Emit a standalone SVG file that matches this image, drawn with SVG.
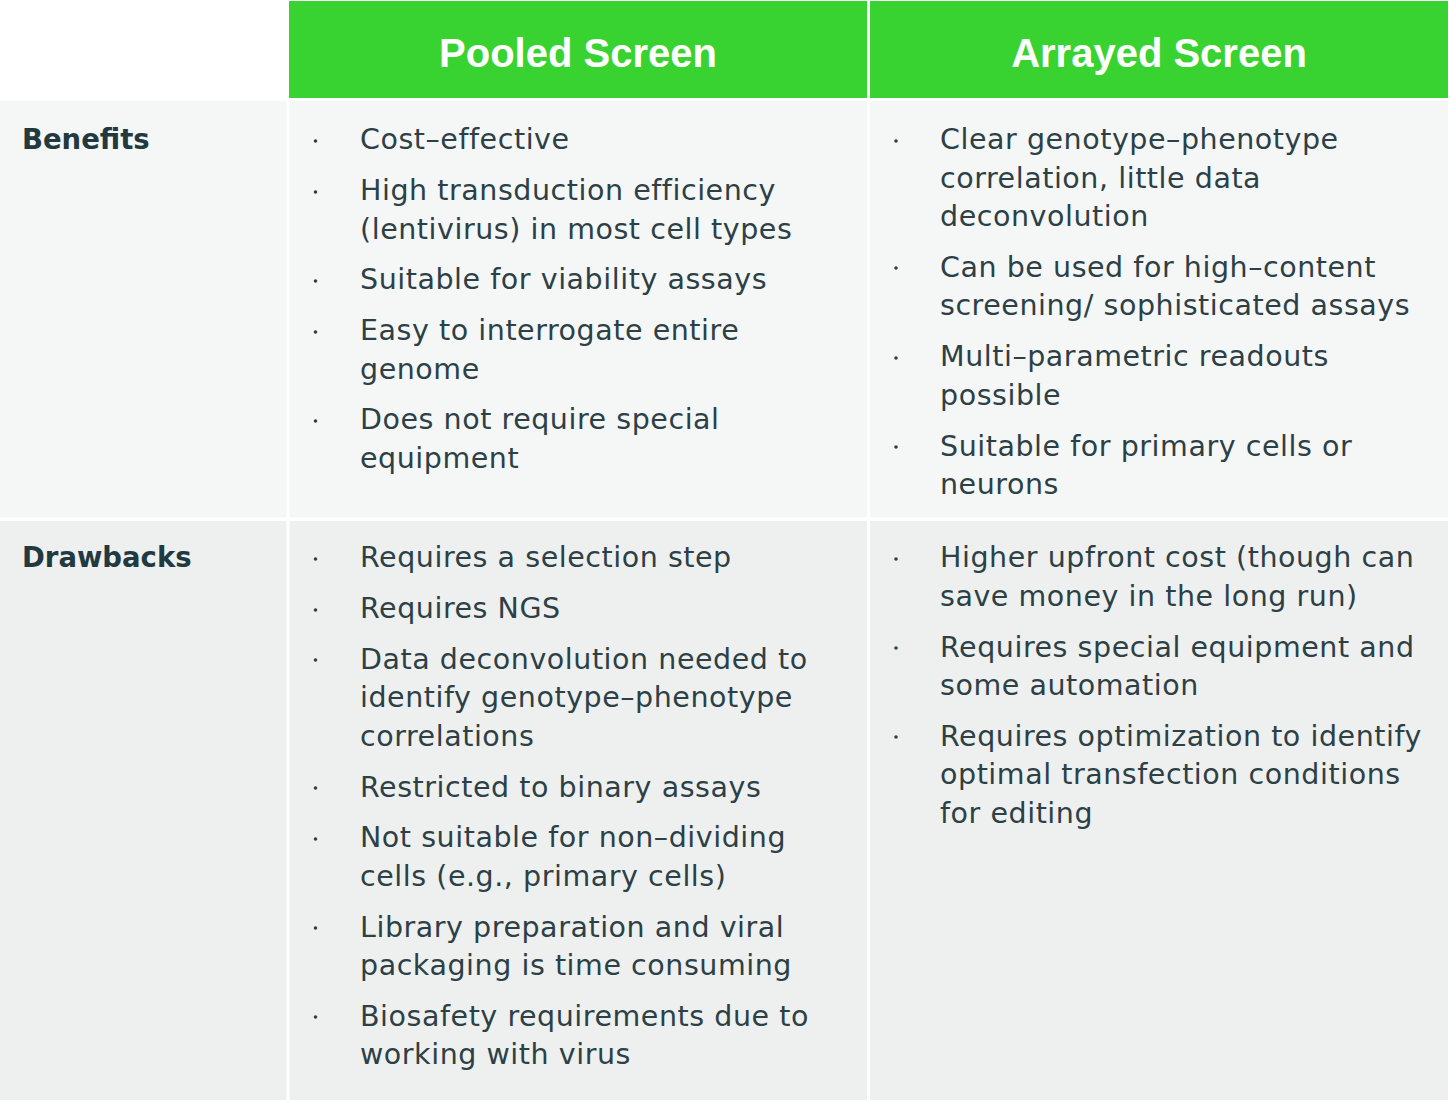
<svg xmlns="http://www.w3.org/2000/svg" width="1450" height="1104" viewBox="0 0 1450 1104">
<style>
.hd{font-family:"Liberation Sans",Arial,sans-serif;font-weight:bold;font-size:40px;fill:#ffffff;text-anchor:middle}
.lb{font-family:"DejaVu Sans",sans-serif;font-weight:bold;font-size:27.5px;fill:#22393f}
.tx{font-family:"DejaVu Sans",sans-serif;font-size:28.5px;letter-spacing:0.55px;fill:#2c4046}
.bu{fill:#2c4046}
</style>
<rect x="0" y="0" width="1450" height="1104" fill="#ffffff"/>
<g id="header">
<rect x="289" y="1" width="578" height="97" fill="#38d331"/>
<rect x="870" y="1" width="578" height="97" fill="#38d331"/>
<text class="hd" x="578" y="67">Pooled Screen</text>
<text class="hd" x="1159" y="67">Arrayed Screen</text>
</g>
<g id="row-benefits">
<rect x="0" y="101" width="286.5" height="416.5" fill="#f5f7f7"/>
<rect x="289.5" y="101" width="577.5" height="416.5" fill="#f5f7f7"/>
<rect x="870" y="101" width="578" height="416.5" fill="#f5f7f7"/>
<text class="lb" x="22" y="149">Benefits</text>
<g id="pooled-benefits">
<circle class="bu" cx="315.5" cy="141" r="1.8"/>
<text class="tx" x="360" y="149">Cost–effective</text>
<circle class="bu" cx="315.5" cy="192" r="1.8"/>
<text class="tx" x="360" y="200">High transduction efficiency</text>
<text class="tx" x="360" y="238.5">(lentivirus) in most cell types</text>
<circle class="bu" cx="315.5" cy="281" r="1.8"/>
<text class="tx" x="360" y="289">Suitable for viability assays</text>
<circle class="bu" cx="315.5" cy="332" r="1.8"/>
<text class="tx" x="360" y="340">Easy to interrogate entire</text>
<text class="tx" x="360" y="378.5">genome</text>
<circle class="bu" cx="315.5" cy="421" r="1.8"/>
<text class="tx" x="360" y="429">Does not require special</text>
<text class="tx" x="360" y="467.5">equipment</text>
</g>
<g id="arrayed-benefits">
<circle class="bu" cx="896" cy="141" r="1.8"/>
<text class="tx" x="940" y="149">Clear genotype–phenotype</text>
<text class="tx" x="940" y="187.5">correlation, little data</text>
<text class="tx" x="940" y="226">deconvolution</text>
<circle class="bu" cx="896" cy="268" r="1.8"/>
<text class="tx" x="940" y="276.5">Can be used for high–content</text>
<text class="tx" x="940" y="315">screening/ sophisticated assays</text>
<circle class="bu" cx="896" cy="358" r="1.8"/>
<text class="tx" x="940" y="366">Multi–parametric readouts</text>
<text class="tx" x="940" y="404.5">possible</text>
<circle class="bu" cx="896" cy="447" r="1.8"/>
<text class="tx" x="940" y="455.5">Suitable for primary cells or</text>
<text class="tx" x="940" y="494">neurons</text>
</g>
</g>
<g id="row-drawbacks">
<rect x="0" y="521" width="286.5" height="579" fill="#eef0ef"/>
<rect x="289.5" y="521" width="577.5" height="579" fill="#eef0ef"/>
<rect x="870" y="521" width="578" height="579" fill="#eef0ef"/>
<text class="lb" x="22" y="567">Drawbacks</text>
<g id="pooled-drawbacks">
<circle class="bu" cx="315.5" cy="559" r="1.8"/>
<text class="tx" x="360" y="567">Requires a selection step</text>
<circle class="bu" cx="315.5" cy="610" r="1.8"/>
<text class="tx" x="360" y="618">Requires NGS</text>
<circle class="bu" cx="315.5" cy="660" r="1.8"/>
<text class="tx" x="360" y="668.5">Data deconvolution needed to</text>
<text class="tx" x="360" y="707">identify genotype–phenotype</text>
<text class="tx" x="360" y="745.5">correlations</text>
<circle class="bu" cx="315.5" cy="788" r="1.8"/>
<text class="tx" x="360" y="796.5">Restricted to binary assays</text>
<circle class="bu" cx="315.5" cy="839" r="1.8"/>
<text class="tx" x="360" y="847">Not suitable for non–dividing</text>
<text class="tx" x="360" y="885.5">cells (e.g., primary cells)</text>
<circle class="bu" cx="315.5" cy="928" r="1.8"/>
<text class="tx" x="360" y="936.5">Library preparation and viral</text>
<text class="tx" x="360" y="975">packaging is time consuming</text>
<circle class="bu" cx="315.5" cy="1017" r="1.8"/>
<text class="tx" x="360" y="1025.5">Biosafety requirements due to</text>
<text class="tx" x="360" y="1064">working with virus</text>
</g>
<g id="arrayed-drawbacks">
<circle class="bu" cx="896" cy="559" r="1.8"/>
<text class="tx" x="940" y="567">Higher upfront cost (though can</text>
<text class="tx" x="940" y="605.5">save money in the long run)</text>
<circle class="bu" cx="896" cy="648" r="1.8"/>
<text class="tx" x="940" y="656.5">Requires special equipment and</text>
<text class="tx" x="940" y="695">some automation</text>
<circle class="bu" cx="896" cy="737" r="1.8"/>
<text class="tx" x="940" y="745.5">Requires optimization to identify</text>
<text class="tx" x="940" y="784">optimal transfection conditions</text>
<text class="tx" x="940" y="822.5">for editing</text>
</g>
</g>
<g id="connectors"></g>
</svg>
